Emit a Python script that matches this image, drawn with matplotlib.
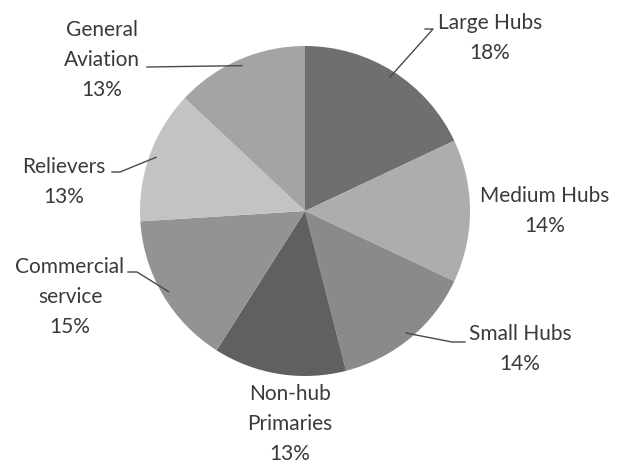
import numpy as np
import matplotlib
matplotlib.use("Agg")
import matplotlib.pyplot as plt

labels = ["Large Hubs", "Medium Hubs", "Small Hubs", "Non-hub\nPrimaries",
          "Commercial\nservice", "Relievers", "General\nAviation"]
shares = [18, 14, 14, 13, 15, 13, 13]
colors = ["#6f6f6f", "#adadad", "#8a8a8a", "#606060", "#939393", "#c3c3c3", "#a4a4a4"]

# label block centres (pixels, y measured from the top)
label_xy = [(490, 38), (545, 211), (520, 349), (290, 424), (70, 297), (64, 182), (102, 60)]
# text-side end of each leader line: (x where the short tick ends, x at the text, y)
leader_end = [(425, 433, 29), None, (465, 452, 342), None,
              (128, 137, 272), (112, 120, 172), (147, 147, 67)]

W, H = 618, 462
fig = plt.figure(figsize=(W / 100, H / 100), dpi=100)
ax = fig.add_axes([0, 0, 1, 1])

cx, cy, r = 305, H - 211, 165
wedges, _ = ax.pie(shares, colors=colors, startangle=90, counterclock=False,
                   radius=r, center=(cx, cy), frame=True,
                   wedgeprops=dict(linewidth=0))
ax.set_xlim(0, W)
ax.set_ylim(0, H)
ax.axis("off")

for w, lab, v, (tx, ty), le in zip(wedges, labels, shares, label_xy, leader_end):
    ax.text(tx, H - ty, f"{lab}\n{v}%", ha="center", va="center", fontsize=15,
            color="#3a3a3a", linespacing=1.65, family=["Lato", "DejaVu Sans"])
    if le is None:
        continue
    mid = np.deg2rad((w.theta1 + w.theta2) / 2)
    ex, ey = cx + r * 0.96 * np.cos(mid), cy + r * 0.96 * np.sin(mid)
    x0, x1, y = le
    ax.plot([x0, x1, ex], [H - y, H - y, ey], color="#4a4a4a", lw=1)

fig.savefig("out.png", dpi=100, facecolor="white")
